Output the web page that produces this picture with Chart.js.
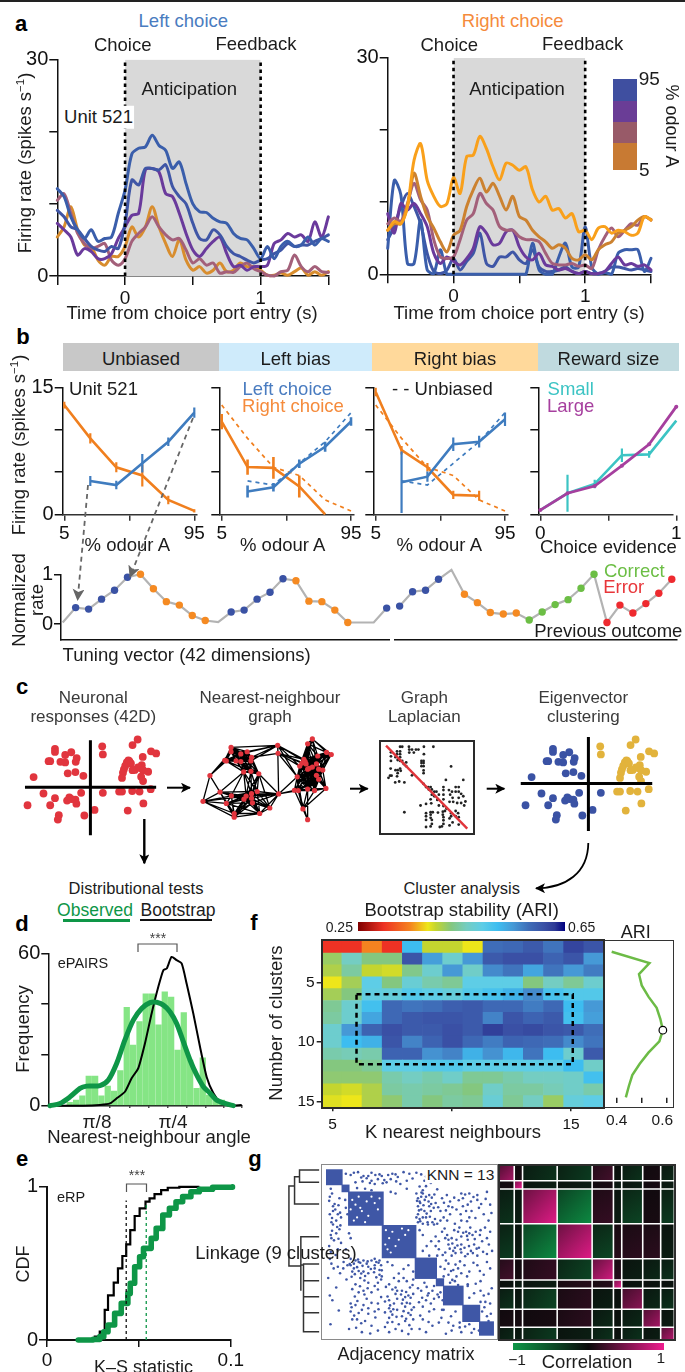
<!DOCTYPE html>
<html><head><meta charset="utf-8"><title>Neuron tuning figure</title>
<script src="https://cdn.jsdelivr.net/npm/chart.js@4/dist/chart.umd.js"></script>
<style>
html,body{margin:0;padding:0;background:#fff}
#page{position:relative;width:685px;height:1372px;overflow:hidden;background:#fff;font-family:"Liberation Sans",Arial,sans-serif}
#page canvas{position:absolute}
.t{position:absolute;white-space:nowrap;line-height:1;z-index:5}
.t sup{font-size:62%;line-height:0;vertical-align:super}
.b{position:absolute;box-sizing:border-box;z-index:4}
svg{position:absolute;left:0;top:0;z-index:6}
</style></head><body><div id="page"></div>
<script>
/* ---------- DATA ---------- */
const timeS = Array.from({length:41},(_,i)=>Math.round((i*0.05-0.5)*100)/100);
// panel a, left choice (spikes/s)
const leftOrange=[5.4,6.8,9.6,6.4,4.3,4.1,2.2,1.5,2.7,2.7,4.1,6.8,5.4,6.8,9.6,6.8,4.5,2.7,5,2.2,.8,1.3,.4,.8,1.8,.6,.8,1.8,1.3,1.3,.8,.1,.1,.4,.1,.6,1.1,.1,.6,.1,.6];
const leftMauve=[10.5,11.4,8.7,5.9,4.5,3.8,4.1,4.5,2.2,1.5,2.4,4.8,5.9,6.8,8.2,6.8,5.7,5,5.2,3.6,1.8,2.4,1.5,1.8,.4,.6,.5,1.3,1.8,1,.6,.1,0,.6,.8,2.9,1.3,.6,1.3,.6,.5];
const leftPurple=[7.3,6.4,5.4,2.9,3.8,3.4,2.4,2.4,3.1,5.2,6.8,8.4,8.7,14.7,14.9,14.4,11.4,11,8.7,5.9,3.6,2.7,3.8,4.8,5.4,3.1,1.3,1.5,.8,1.3,1.3,1.5,4.5,5,5.9,5.4,5.7,4.8,7.5,5.4,8.2];
const leftIndigo=[9.1,8.2,6.8,6.4,5.2,4.1,3.6,3.4,4.1,3.8,7.3,13.3,12.6,14.9,14.9,14.7,15.4,12.4,11,10,7.3,5.2,5,6.4,5.7,4.1,3.1,2.7,2.2,1.8,2.2,2.4,3.1,3.6,4.5,4.1,4.3,4.3,4.8,5.2,5.7];
const leftBlue=[12.1,11,8.2,6.4,5.2,6.4,4.8,5.2,5.4,8.7,11.9,16.9,17.7,17.9,19.5,18.1,17.4,14.9,15.8,12.8,10,8.9,8.8,8,7.5,7.3,5.9,5.2,5,3.8,2.4,4.1,2.4,4.1,4.8,4.1,4.3,5.4,4.3,5.2,4.8];
// panel a, right choice (spikes/s)
const rightBlueA=[3.6,13,11,1.5,1.5,7.5,.6,.1,3.4,0,0,0,0,0,0,0,0,0,0,0,0,0,4.3,.6,0,0,2.4,4.3,1,1,6.6,1,0,.2,0,2.9,3.4,3.4,3.4,.4,2.2];
const rightBlueB=[4.8,6.6,9.4,11.2,9.4,7,2.9,.4,.1,.6,2.2,.6,1.8,2.9,5.7,1.5,1.1,2.4,2.4,3.1,2,1.5,3.4,1,.4,.4,.6,1,.4,.1,.4,.1,.1,.4,1,1,.8,.6,.8,.6,.4];
const rightPurple=[8.4,5.7,9.8,8.9,9.8,8.4,6.6,2.9,1.5,2.4,1.8,1.3,2.2,3.6,6.6,5.7,4.1,4.3,5.9,6.1,3.8,2.4,2,2.9,1.3,1.1,.6,.8,.4,.1,.4,.1,.1,.4,1.5,2.4,1.3,1.5,1.1,1.3,.6];
const rightMauve=[7,7.8,7.3,9.8,12.6,10.3,8.9,4.8,2.4,2.2,2.4,4.8,7.5,8.4,11.2,9.8,8.9,6.6,6.1,6.1,5.2,4.8,4.8,4.5,2.9,1.5,1.3,1.3,1.5,1.1,1.3,.8,3.4,5.2,6.4,5.2,6.1,7,6.8,8,7.5];
const rightBrown=[6.1,7,7,9.4,14,10.8,8,6.4,4.5,3.1,5.4,6.1,9.4,11.7,13.3,11.4,12.6,10.8,8.9,10.8,8,7.5,6.1,5.2,4.5,3.6,4.1,3.6,2.2,2,2.7,2,3.4,4.1,4.5,5.7,6.1,6.6,7.5,8,7.6];
const rightOrange=[6.1,7.3,7,9.4,15.8,18.1,13,10.8,9.4,9.8,13.4,11.2,16.3,16.5,19.1,17.4,14.9,13.1,15.4,15.1,14.4,14.9,11.7,10,10.8,8.9,9.1,7.8,8.4,5.9,6.1,4.8,6.4,6.6,5.7,6.1,5.9,5.4,5.7,8,7.5];
// panel b
const odourLevels=[5,23,41,59,77,95];
const unbiasedRight=[12.95,9,5.57,4.6,1.7,.4], unbiasedRightErr=[.4,.6,.6,1.3,.5,.2];
const unbiasedLeft=[null,3.95,3.47,6.04,8.6,12.04], unbiasedLeftErr=[0,.6,.5,1.1,.5,.6];
const leftBiasRight=[10.97,5.6,5.5,3.3,0,null], leftBiasRightErr=[.9,.9,1.3,1.3,0,0];
const leftBiasLeft=[null,2.7,3.2,6,8,11], leftBiasLeftErr=[0,.7,.5,.5,.6,.5];
const rightBiasRight=[14.5,7.6,5.57,2.3,2.2,null], rightBiasRightErr=[.5,.5,.5,.5,.6,0];
const rightBiasLeft=[null,3.8,4.46,8.3,8.6,11.25], rightBiasLeftErr=[0,3.65,.6,.8,.7,.8];
const evidence=[0,.2,.4,.6,.8,1];
const rewardSmall=[.5,2.5,3.6,7,7.1,11.1], rewardSmallErr=[0,2.2,.5,.8,.4,.5];
const rewardLarge=[.5,2.5,3.35,5.76,8.3,12.75];
const tuningVector=[.03,.33,.30,.50,.68,.94,1,.71,.45,.38,.17,.07,.04,.24,.28,.5,.64,.91,.87,.46,.45,.28,.03,.03,.03,.32,.36,.65,.68,.9,1.09,.6,.43,.23,.2,.22,.08,.24,.39,.49,.72,1,.03,.38,.22,.41,.62,.9];
const tuningGroup="-BBBBBOOOOOO-BBBBBOOOOO--BBBBBOOOOOOGGGGGGRRRRRR";
// panel c
const pc1=[148,132,37,39,-111,-111,-79,-60,-43,-46,-131,-126,-94,-79,-178,-71,-47,-22,190,206,164,119,114,122,109,127,105,102,99,161,157,149,139,132,165,181,159,165,-147,-111,-126,-197,-66,-73,-59,-47,-44,-29,-99,-102,-19,13,39,90,99,131,154,189,166,117];
const pc2=[154,136,132,106,124,114,104,113,94,82,84,84,82,80,33,45,49,37,116,109,98,87,80,84,69,77,58,47,30,71,62,64,56,55,55,50,34,20,-20,-35,-58,-58,-33,-43,-38,-40,-53,-18,-90,-104,-91,-73,-18,-14,-14,-12,-14,-6,-52,-75];
const clusterOf="YYYYBBBBBBBBBBBBBBYYYYYYYYYYYYYYYYYYYYBBBBBBBBBBBBBBBYYYYYYY";
const graphNodes=[[687,224],[687,238],[718,245],[738,238],[752,256],[750,268],[667,266],[672,268],[703,268],[718,270],[620,316],[727,304],[750,302],[775,310],[945,196],[930,212],[990,240],[1005,247],[962,252],[918,263],[912,275],[922,270],[905,285],[925,278],[958,278],[930,295],[935,292],[945,288],[965,295],[978,298],[958,315],[965,328],[897,320],[835,217],[836,243],[652,370],[688,382],[672,407],[598,400],[735,383],[752,375],[770,368],[728,393],[752,390],[755,405],[697,440],[697,452],[778,440],[810,422],[838,376],[888,364],[900,365],[930,360],[952,365],[988,358],[915,425],[930,460]];
const graphBridges=[[10,38],[10,35],[10,1],[10,6],[11,35],[13,41],[13,49],[33,49],[33,4],[33,0],[33,3],[33,19],[33,22],[33,32],[34,22],[34,32],[34,23],[49,32],[49,50],[41,49],[39,49],[35,41],[49,48],[48,13],[38,45],[38,46],[35,38],[32,50],[32,51],[32,55],[51,56],[52,56],[53,55],[54,31],[54,55],[31,53],[14,18],[16,14],[17,14],[28,54],[33,2],[33,5],[38,36],[38,37],[38,39],[46,47],[45,44],[37,47],[25,51],[25,52],[22,50],[21,33]];
const lapCol=[158,165,187,236,267,188,197,210,218,188,203,236,128,148,158,128,148,158,128,143,158,150,158,165,178,170,178,228,235,228,235,228,235,127,143,150,158,160,235,235,150,125,120,130,148,197,325,155,142,172,235,243,250,258,252,262,270,277,262,270,258,285,300,300,300,300,308,365,340,350,318,328,340,350,358,322,330,350,365,320,332,345,358,372,260,280,225,243,285,300,310,368,172,243,258,265,282,298,305,325,340,348,243,258,258,298,300,325,340,243,262,300,320,350,330,320,300,295,262,258,243,350,288];
const lapRow=[219,219,219,219,219,228,228,228,228,238,238,243,237,234,234,250,243,243,265,253,253,262,265,265,270,275,282,265,265,272,272,282,282,290,295,295,290,297,296,305,305,313,320,313,315,312,283,332,335,335,340,350,350,350,358,358,365,365,375,380,390,375,350,360,375,390,327,327,350,350,360,365,365,365,372,375,385,385,380,398,398,402,402,397,403,392,410,405,410,412,420,410,432,435,432,432,433,430,428,435,428,435,445,440,450,440,448,445,445,457,457,458,452,448,465,475,470,478,470,478,480,472,480];
// panel d
const histAngle=[.141,.183,.224,.266,.308,.349,.391,.433,.474,.516,.558,.6,.641,.683,.725,.766,.808,.85,.891,.933,.975,1.016,1.058,1.1,1.141];
const histCount=[1.3,2.2,3.9,11.7,11.7,3.9,7.7,5.8,13.8,38.7,23.9,33.1,44,44,31.8,44.8,42.8,21.9,36.7,18,6.8,18.8,4.2,2.9,2.2];
const obsAngle=[.011,.077,.143,.208,.252,.34,.395,.45,.504,.559,.614,.669,.713,.757,.8,.844,.888,.932,.976,1.02,1.064,1.107,1.173,1.217];
const obsFreq=[0,.9,3.5,6.8,7.7,7.9,10.1,16.7,25.9,33.7,38.3,40.6,40.7,39.6,37,32.4,25.2,18,12.1,7.5,4.9,2.2,.7,0];
const bootAngle=[.011,.23,.34,.406,.45,.504,.548,.592,.636,.68,.724,.757,.779,.811,.844,.877,.91,.954,.998,1.042,1.086,1.129,1.195,1.272];
const bootFreq=[0,0,.3,.9,2.9,5.5,10.8,14.8,24.6,36.4,46.9,53.4,54,58.6,57.3,56,48,36.2,23.1,11.2,4.9,1.6,0,.3];
// panel e
const ksBootX=[.016,.026,.0287,.0314,.0332,.0363,.0386,.041,.0431,.0453,.0477,.0504,.0536,.0558,.0585,.0621,.0657,.072,.0829];
const ksBootY=[0,.022,.054,.196,.291,.374,.467,.548,.624,.717,.809,.859,.902,.924,.952,.978,.993,.9985,1];
const ksObsX=[.017,.0251,.0287,.0309,.0332,.0368,.0404,.044,.0453,.0477,.0504,.0525,.0567,.0594,.063,.0666,.0702,.0738,.0783,.0829,.0901,.1009];
const ksObsY=[0,.004,.022,.054,.098,.174,.239,.304,.37,.478,.543,.598,.663,.728,.815,.859,.902,.935,.967,.983,.996,1];
// panel f
const kLabels=['5','6','7','8','9','10','11','12','13','14','15','16','17','18'];
const clusterCounts=[2,3,4,5,6,7,8,9,10,11,12,13,14,15];
const stability=[
[.30,.30,.35,.30,.52,.40,.40,.385,.58,.585,.60,.575,.62,.605],
[.42,.46,.43,.43,.605,.545,.47,.55,.60,.61,.61,.59,.605,.55],
[.41,.445,.40,.395,.435,.47,.55,.465,.56,.575,.54,.575,.55,.57],
[.385,.415,.49,.43,.475,.45,.44,.49,.49,.49,.43,.46,.44,.47],
[.415,.43,.485,.48,.50,.49,.48,.50,.51,.53,.56,.51,.50,.50],
[.44,.47,.515,.585,.575,.58,.595,.60,.585,.585,.57,.585,.52,.55],
[.445,.47,.54,.585,.60,.605,.605,.60,.565,.605,.59,.60,.515,.545],
[.47,.55,.59,.61,.60,.60,.61,.60,.625,.61,.615,.605,.60,.58],
[.47,.52,.53,.605,.565,.59,.61,.585,.57,.59,.585,.58,.56,.575],
[.45,.455,.45,.59,.59,.555,.565,.53,.555,.525,.575,.52,.47,.60],
[.43,.43,.44,.49,.49,.50,.50,.49,.49,.49,.49,.49,.52,.465],
[.425,.425,.425,.45,.46,.45,.465,.44,.44,.45,.46,.46,.465,.515],
[.40,.395,.41,.445,.45,.445,.44,.43,.465,.445,.445,.455,.465,.45],
[.39,.385,.41,.425,.45,.43,.445,.44,.475,.44,.46,.42,.48,.49]];
const ariByClusters=[.379,.531,.489,.5,.527,.56,.575,.585,.571,.527,.492,.462,.448,.436];
// panel g
const adjEdges=[0,48,70,175,277,342,365,425,477,520];
const adjPairs=[[60,13],[75,17],[85,10],[115,20],[125,27],[140,10],[152,17],[160,30],[175,43],[192,17],[205,13],[217,37],[222,23],[258,13],[280,10],[295,15],[112,37],[140,35],[180,33],[200,30],[305,35],[90,40],[130,20],[165,15],[215,15],[250,35],[340,5],[395,10],[150,45],[230,45],[98,8],[108,25],[135,42],[172,20],[187,40],[240,8],[268,28],[310,22],[325,42],[370,30],[410,18],[442,38],[485,12],
[200,70],[215,75],[290,53],[300,65],[250,60],[120,60],[95,58],[140,65],[310,52],[345,62],
[280,75],[285,90],[292,105],[300,75],[310,85],[320,80],[285,115],[295,125],[285,140],[290,155],[300,150],[315,165],[325,130],[330,165],[340,105],[360,90],[375,80],[385,100],[420,75],[445,75],[470,80],[500,70],[425,115],[435,130],[445,150],[420,160],[470,95],[475,120],[510,110],[380,115],[355,130],[385,140],[320,115],[355,160],[300,170],[335,172],[400,170],[290,100],[305,130],[285,165],[310,150],[295,85],[425,90],[450,100],[490,140],[505,160],[440,110],[405,125],[365,150],[345,170],
[282,98],[288,128],[296,72],[302,112],[306,95],[312,138],[318,100],[322,148],[328,88],[334,120],[338,155],[280,150],[292,162],[316,172],[326,108],[336,78],[348,118],[372,128],[392,118],[412,96],[418,140],[432,78],[438,162],[452,130],[458,86],[464,152],[482,108],[496,92],[514,136],[398,88],[376,160],[366,104],
[300,205],[340,210],[350,225],[370,215],[380,220],[390,215],[405,220],[420,210],[435,195],[445,200],[455,205],[465,195],[480,190],[380,235],[400,245],[420,235],[440,220],[460,235],[485,225],[500,215],[340,240],[370,260],[420,260],[440,265],[470,270],[500,265],[320,270],[290,190],[430,245],[390,270],[360,195],[410,195],[450,255],[475,245],[510,195],[395,255],[300,255],[345,270],
[368,185],[376,205],[384,248],[392,232],[398,190],[402,262],[408,238],[414,182],[418,250],[426,198],[432,272],[438,208],[444,240],[448,182],[456,262],[462,218],[468,248],[478,205],[488,258],[494,182],[506,235],[516,255],[350,250],[362,268],[326,225],[312,240],
[355,305],[380,295],[395,315],[410,310],[420,325],[405,335],[500,290],[510,310],[380,330],[365,335],[430,300],[445,320],[470,300],[490,330],[372,285],[388,318],[402,298],[416,288],[438,335],[458,292],[478,318],[368,312],
[385,355],[400,350],[440,360],[480,350],[410,362],[392,346],[465,358],
[480,380],[490,395],[505,390],[495,415],[510,420],[480,415],[440,365],[445,402],[460,388],[515,372],
[485,445],[500,460],[505,475],[492,432],[512,452]];
const adjGaps=[[80,95],[90,110],[100,85],[110,130],[125,100],[95,150],[85,160],[130,145],[150,105],[160,125],[165,90],[140,85],[105,120],[75,125],[120,165],[185,190],[195,215],[205,195],[215,240],[190,250],[235,185],[245,205],[255,190],[225,220],[200,260],[183,235]];
const corrEdges=[0,47,72,176,281,345,370,433,487,528];
const corrMeans=[
[.55,.05,-.2,-.25,.2,-.05,-.2,.05,-.15],
[.05,.85,-.1,-.1,.05,-.1,-.1,.05,-.1],
[-.2,-.1,.75,-.65,.15,-.1,-.3,.05,-.25],
[-.25,-.1,-.65,.75,-.3,.1,.12,.12,-.1],
[.2,.05,.15,-.3,.7,.1,-.1,-.15,-.2],
[-.05,-.1,-.1,.1,.1,.85,-.05,-.05,-.05],
[-.2,-.1,-.3,.12,-.1,-.05,.45,-.15,-.2],
[.05,.05,.05,.12,-.15,-.05,-.15,.55,-.1],
[-.15,-.1,-.25,-.1,-.2,-.05,-.2,-.1,.6]];
// dendrogram links: distance, unit rank, distance, unit rank
const linkage=[[57,15,0,15],[57,52,0,52],[57,15,57,52],[72,35,57,35],[72,35,72,117],[72,117,0,117],[89,63,72,63],[89,63,89,303],[89,303,53,303],[53,215,53,375],[53,215,0,215],[53,300,45,300],[45,297,45,500],[45,297,0,297],[45,347,0,347],[45,395,0,395],[45,443,0,443],[45,500,0,500]];

/* ---------- HELPERS ---------- */
const page=document.getElementById('page');
const FONT='"Liberation Sans", Arial, sans-serif', INK='#111';
const BLUE='#3F7CBF', ORANGE='#F07F1E';
function T(str,x,y,o={}){const e=document.createElement('div');e.className='t';e.innerHTML=str;
  e.style.cssText+=`left:${x}px;top:${y}px;font-size:${o.s||18.5}px;color:${o.c||'#1c1c1c'};font-weight:${o.w||400};transform:translate(-50%,-50%) rotate(${o.r||0}deg);`+(o.bg?`background:${o.bg};padding:${o.pad||'2px 1px'};`:'');
  page.appendChild(e);}
function B(x,y,w,h,o={}){const e=document.createElement('div');e.className='b';
  e.style.cssText+=`left:${x}px;top:${y}px;width:${w}px;height:${h}px;`+(o.bg?`background:${o.bg};`:'')+(o.bd?`border:${o.bd};`:'')+(o.z?`z-index:${o.z};`:'');
  page.appendChild(e);}
const axis=o=>({type:'linear',axis:o.axisId,position:o.position,min:o.min,max:o.max,reverse:!!o.reverse,offset:false,display:o.show!==false,
  border:{display:o.noBorder?false:true,color:o.bc||INK,width:o.bw||1.5},
  grid:{display:true,drawOnChartArea:false,drawTicks:!!o.ticks,tickLength:o.tl||0,color:o.bc||INK,lineWidth:1.5,offset:false},
  ticks:{display:!!o.labels,autoSkip:false,maxRotation:0,minRotation:0,padding:o.pad??2,color:INK,font:{family:FONT,size:o.fs||20},
    callback:v=>(o.labels&&o.labels[v]!==undefined?o.labels[v]:'')},
  afterBuildTicks:s=>{if(o.ticks)s.ticks=o.ticks.map(value=>({value}));},
  afterFit:s=>{if(s.isHorizontal())s.height=o.size;else s.width=o.size;}});
function mk(a,m,datasets,x,y,more={}){
  const left=Math.floor(a.l-m.l),top=Math.floor(a.t-m.t);
  const W=Math.ceil(a.r+m.r-left),H=Math.ceil(a.b+m.b-top);
  const c=document.createElement('canvas');c.width=W;c.height=H;c.style.cssText=`left:${left}px;top:${top}px;width:${W}px;height:${H}px;z-index:${more.z||2}`;
  page.appendChild(c);
  const pl=a.l-left,pt=a.t-top,pr=W-(a.r-left),pb=H-(a.b-top);
  datasets.forEach((d,i)=>{d.order=-i;});
  x.size=pb;y.size=pl;
  const scales={y:axis(y)};
  const xVisible=(x.show!==false&&!x.cat)||more.scales;
  if(x.cat)scales.x={type:'category',labels:x.cat,display:false,offset:true,grid:{offset:true}};else scales.x=axis(x);
  if(more.scales)for(const k in more.scales){more.scales[k].size=pb;scales[k]=axis(more.scales[k]);}
  return new Chart(c,{type:'scatter',data:{labels:x.cat,datasets},options:{responsive:false,animation:false,devicePixelRatio:1,events:[],
    layout:{padding:{left:y.show===false?pl:0,top:pt,right:pr,bottom:xVisible?0:pb}},
    plugins:{legend:{display:false},tooltip:{enabled:false},title:{display:false}},scales}});
}
const L=(data,color,w,ex={})=>Object.assign({type:'line',data,borderColor:color,backgroundColor:color,borderWidth:w,pointRadius:0,tension:0,clip:false,fill:false,spanGaps:false,borderCapStyle:'butt'},ex);
const P=(data,color,r,ex={})=>Object.assign({type:'scatter',data,backgroundColor:color,borderColor:color,borderWidth:0,pointRadius:r,showLine:false,clip:false},ex);
const xy=(xs,ys)=>xs.map((x,i)=>({x,y:ys[i]}));
const errs=(xs,ys,es)=>xs.flatMap((x,i)=>ys[i]==null||!es[i]?[]:[{x,y:Math.max(0,ys[i]-es[i])},{x,y:ys[i]+es[i]},{x,y:null}]);
const hex=h=>[parseInt(h.slice(1,3),16),parseInt(h.slice(3,5),16),parseInt(h.slice(5,7),16)];
const mix=(a,b,t)=>{const A=hex(a),B_=hex(b);return `rgb(${A.map((v,i)=>Math.round(v+(B_[i]-v)*t)).join(',')})`;};

/* ---------- frame furniture ---------- */
B(0,0,685,1.5,{bg:'#222'});
[['a',21,24],['b',23,337],['c',22,687],['d',22,924],['e',22,1159],['f',254,923],['g',255,1159]].forEach(p=>T(p[0],p[1],p[2],{s:22,w:700,c:'#000'}));

/* ---------- panel a ---------- */
function panelA(a,curves,colors,mL){
  const shade=L([{x:0,y:30},{x:1,y:30}],'rgba(0,0,0,0)',0,{fill:'origin',backgroundColor:'#D9D9D9'});
  const ds=[shade,...curves.map((c,i)=>L(xy(timeS,c),colors[i],3,{tension:.3,borderCapStyle:'round',borderJoinStyle:'round'})),
    L([{x:0,y:0},{x:0,y:30}],'#000',2.6,{borderDash:[3.5,3.5]}),L([{x:1,y:0},{x:1,y:30}],'#000',2.6,{borderDash:[3.5,3.5]})];
  mk(a,{l:mL,t:14,r:14,b:32},ds,
    {min:-.5,max:1.5,ticks:[-.5,0,.5,1,1.5],labels:{0:'0',1:'1'},tl:9,pad:2,fs:19},
    {min:0,max:30,ticks:[0,10,20,30],labels:{0:'0',30:'30'},tl:8,pad:1,fs:20});
}
panelA({l:57.3,r:328.4,t:59.5,b:276},[leftOrange,leftMauve,leftPurple,leftIndigo,leftBlue],['#D88D2E','#A3607A','#6A3A9C','#3F56A6','#3A5EAB'],40);
panelA({l:387.7,r:651,t:57.7,b:274.3},[rightBlueB,rightBlueA,rightPurple,rightMauve,rightBrown,rightOrange],['#3F56A6','#3A5EAB','#6A3A9C','#A3607A','#CC8230','#F9A01B'],40);
T('Left choice',183.3,20.7,{c:'#4A7CC0'});T('Right choice',512.7,20.7,{c:'#F58B3C'});
T('Choice',122.7,45);T('Feedback',256,43.5);T('Anticipation',189.3,89);
T('Choice',449.3,45);T('Feedback',582.7,43.5);T('Anticipation',517,89);
T('Unit 521',98,117.3,{bg:'#fff',pad:'2px 1px 2px 2px'});
T('Firing rate (spikes s<sup>−1</sup>)',25,163,{r:-90});
T('Time from choice port entry (s)',192,312.7);T('Time from choice port entry (s)',519,312.7);
[[79,22,'#3F4FA0'],[101,21,'#6A3D96'],[122,21,'#985A68'],[143,27,'#C87A33']].forEach(s=>B(613,s[0],24,s[1],{bg:s[2]}));
T('95',649.3,77.7,{s:19});T('5',644.3,169.3,{s:19});T('% odour A',672.3,126,{r:90,s:18});

/* ---------- panel b ---------- */
[[63,156,'#C8C8C8','Unbiased'],[219,153,'#CFEBFB','Left bias'],[372,166,'#FFD99B','Right bias'],[538,141,'#C0DADF','Reward size']].forEach(h=>{B(h[0],343.3,h[1],27.7,{bg:h[2]});T(h[3],h[0]+h[1]/2,359,{});});
function tuning(axL,x0,x1,xvals,xMin,xMax,ds,xt,xl){
  const px=(x1-x0)/(xMax-xMin);
  mk({l:axL,r:axL+134,t:387.7,b:514.3},{l:36,t:14,r:16,b:32},ds,
    {min:xMin-(x0-axL)/px,max:xMin-(x0-axL)/px+134/px,ticks:xt,labels:xl,tl:6.5,pad:2,fs:19,bc:'#333'},
    {min:0,max:15,ticks:[0,5,10,15],labels:axL<100?{0:'0',15:'15'}:null,tl:8,pad:1,fs:20,bc:'#111'});
}
const odTicks=[5,50,95],odLabels={5:'5',95:'95'};
const seg=(xs,ys,c,w=2.6)=>L(xy(xs,ys),c,w);
const err=(xs,ys,es,c,w=2.2)=>L(errs(xs,ys,es),c,w);
const dash=(ys,c)=>L(xy(odourLevels,ys),c,1.7,{borderDash:[4,4]});
tuning(62.7,64.3,194.3,odourLevels,5,95,[seg(odourLevels,unbiasedRight,ORANGE),err(odourLevels,unbiasedRight,unbiasedRightErr,ORANGE),seg(odourLevels,unbiasedLeft,BLUE),err(odourLevels,unbiasedLeft,unbiasedLeftErr,BLUE)],odTicks,odLabels);
tuning(219.3,221.7,351,odourLevels,5,95,[dash(unbiasedRight,ORANGE),dash(unbiasedLeft,BLUE),seg(odourLevels,leftBiasRight,ORANGE),err(odourLevels,leftBiasRight,leftBiasRightErr,ORANGE,2.6),seg(odourLevels,leftBiasLeft,BLUE),err(odourLevels,leftBiasLeft,leftBiasLeftErr,BLUE,2.6)],odTicks,odLabels);
tuning(373.3,375.7,505,odourLevels,5,95,[dash(unbiasedRight,ORANGE),dash(unbiasedLeft,BLUE),seg(odourLevels,rightBiasRight,ORANGE),err(odourLevels,rightBiasRight,rightBiasRightErr,ORANGE),seg(odourLevels,rightBiasLeft,BLUE),err(odourLevels,rightBiasLeft,rightBiasLeftErr,BLUE)],odTicks,odLabels);
tuning(538.3,540.3,676.3,evidence,0,1,[seg(evidence,rewardSmall,'#3CC4C4'),err(evidence,rewardSmall,rewardSmallErr,'#3CC4C4'),seg(evidence,rewardLarge,'#A63F9E',2.8),P(xy(evidence,rewardLarge),'#A63F9E',2)],[0,.5,1],{0:'0',1:'1'});
T('Firing rate (spikes s<sup>−1</sup>)',19.3,445,{r:-90});
T('Unit 521',103.5,389.3);T('Left choice',287.3,389.3,{c:'#4A7CC0'});T('Right choice',293,406,{c:'#F58B3C'});
T('- - Unbiased',442.3,389.3);T('Small',570.7,389.3,{c:'#3CC4C4'});T('Large',570.7,406,{c:'#A63F9E'});
T('% odour A',127.3,545);T('% odour A',282.7,545);T('% odour A',439.3,545);T('Choice evidence',608.3,546.7);
// tuning vector
{
  const GC={B:'#3A52A4',O:'#F58A22',G:'#6CBE45',R:'#EE2A2F'};
  const lineData=tuningVector.flatMap((v,i)=>i===25?[{x:i,y:v},{x:i+.5,y:null}]:[{x:i,y:v}]);
  const marks=tuningVector.map((v,i)=>({x:i,y:v,g:tuningGroup[i]})).filter(p=>GC[p.g]);
  mk({l:61,r:676.7,t:574.3,b:640},{l:40,t:14,r:6,b:14},[L(lineData,'#B3B3B3',2.2),P(marks,marks.map(p=>GC[p.g]),3.7)],
    {min:-.13,max:47.38,fs:10},{min:-.322,max:1,ticks:[0,1],labels:{0:'0',1:'1'},tl:7,pad:1,fs:20});
  B(390,637,4,6,{bg:'#fff',z:3});
}
T('Normalized',19,600,{r:-90});T('rate',36.7,600,{r:-90});
T('Tuning vector (42 dimensions)',186.7,655);
T('Correct',634.3,570.7,{c:'#6CBE45'});T('Error',623.7,587.3,{c:'#E8363A'});T('Previous outcome',608.3,631);

/* ---------- panel c ---------- */
const neuronPts=xy(pc1,pc2);
function scatterC(l,ds){mk({l,r:l+156.67,t:729,b:844},{l:0,t:0,r:0,b:0},ds,{min:-230,max:240,show:false},{min:-170,max:175,show:false});}
scatterC(13.67,[P(neuronPts,'#E1353E',3.9),L([{x:-205,y:0},{x:206,y:0}],'#000',3),L([{x:0,y:152},{x:0,y:-155}],'#000',3)]);
scatterC(511.67,[P(neuronPts,pc1.map((_,i)=>clusterOf[i]==='B'?'#3A52A4':'#E2B33C'),3.9),L([{x:-212,y:12},{x:200,y:12}],'#000',3),L([{x:0,y:162},{x:0,y:-141}],'#000',3)]);
{
  const edges=[];
  graphNodes.forEach((a,i)=>graphNodes.forEach((b,j)=>{if(j>i&&Math.hypot(a[0]-b[0],a[1]-b[1])<88)edges.push([i,j]);}));
  const all=edges.concat(graphBridges).flatMap(([i,j])=>[{x:graphNodes[i][0],y:graphNodes[i][1]},{x:graphNodes[j][0],y:graphNodes[j][1]},{x:graphNodes[j][0],y:null}]);
  mk({l:193,r:340,t:730,b:827},{l:0,t:0,r:0,b:0},[L(all,'#000',1.3),P(graphNodes.map(n=>({x:n[0],y:n[1]})),'#E1353E',2.6)],
    {min:579,max:1020,show:false},{min:180,max:471,reverse:true,show:false});
  mk({l:379,r:474,t:740,b:834.3},{l:0,t:0,r:0,b:0},[P(xy(lapCol,lapRow),'#222',1.4),L([{x:112,y:215},{x:378,y:485}],'#E0353B',2.4)],
    {min:102,max:387,show:false},{min:210,max:493,reverse:true,show:false});
  B(379,740,95.5,94.5,{bd:'2px solid #2a2a2a'});
}
[['Neuronal',93.3,697.3],['responses (42D)',93.3,715.7],['Nearest-neighbour',270,697.3],['graph',270,715.7],['Graph',424.3,697.3],['Laplacian',424.3,715.7],['Eigenvector',583.3,697.3],['clustering',583.3,715.7]].forEach(p=>T(p[0],p[1],p[2],{s:17,c:'#3a3a3a'}));
T('Distributional tests',136,888.3,{s:16.5});T('Cluster analysis',461.7,888.3,{s:16.5});

/* ---------- panel d ---------- */
mk({l:48.3,r:241.7,t:953.3,b:1105.7},{l:42,t:14,r:8,b:14},
  [Object.assign({type:'bar',data:xy(histAngle,histCount),backgroundColor:'#85E585',barThickness:5.6,grouped:false,borderWidth:0}),
   L(xy(bootAngle,bootFreq),'#000',2,{tension:.2}),L(xy(obsAngle,obsFreq),'#0E9647',5,{tension:.3,borderCapStyle:'round'})],
  {min:0,max:1.272,ticks:[.406,.533,.658,.785,.91,1.035,1.156,1.272],tl:2,fs:10},
  {min:0,max:60,ticks:[0,20,40,60],labels:{0:'0',60:'60'},tl:7,pad:1,fs:20});
T('Observed',95,911,{c:'#0E9647',s:17.5});T('Bootstrap',178,911,{s:17.5});
B(63,918.5,67,3,{bg:'#0E9647'});B(140,918.5,72,2.6,{bg:'#111'});
T('ePAIRS',83,963,{s:14.5});T('***',158,938,{s:14,c:'#444'});
T('π/8',97,1121,{s:19});T('π/4',173,1121,{s:19});T('Frequency',23,1029,{s:18.5,r:-90});T('Nearest-neighbour angle',149,1137);

/* ---------- panel e ---------- */
mk({l:47,r:231.7,t:1186.7,b:1340},{l:36,t:14,r:14,b:32},
  [L(xy(ksBootX,ksBootY),'#000',2.2,{stepped:true}),L(xy(ksObsX,ksObsY),'#0E9647',5.6,{stepped:true,borderCapStyle:'round',borderJoinStyle:'round'}),
   L([{x:.0431,y:0},{x:.0431,y:.91}],'#111',1.3,{borderDash:[3,3]}),L([{x:.054,y:0},{x:.054,y:.9}],'#0E9647',1.3,{borderDash:[3,3]})],
  {min:0,max:.1,ticks:[0,.05,.1],labels:{0:'0',0.1:'0.1'},tl:7,pad:2,fs:19,bw:2},
  {min:0,max:1,ticks:[0,1],labels:{0:'0',1:'1'},tl:8,pad:1,fs:20,bw:2});
T('eRP',71,1197,{s:14.5});T('***',137,1175,{s:14,c:'#444'});T('CDF',23,1264,{s:18,r:-90});T('K–S statistic',143.6,1366.7,{s:18});

/* ---------- panel f ---------- */
const HEAT=[[.25,'#7F0000'],[.30,'#EE3224'],[.35,'#F58220'],[.385,'#EDE61A'],[.40,'#C4D52F'],[.43,'#84C77F'],[.46,'#74CDC2'],[.49,'#5ECDE6'],[.52,'#3DBDF0'],[.55,'#4699D6'],[.58,'#3F6DB8'],[.61,'#3A50A5'],[.63,'#2E3A96'],[.65,'#000080']];
function heat(v){for(let i=1;i<HEAT.length;i++){if(v<=HEAT[i][0]){const t=(v-HEAT[i-1][0])/(HEAT[i][0]-HEAT[i-1][0]);return mix(HEAT[i-1][1],HEAT[i][1],Math.max(0,t));}}return HEAT[HEAT.length-1][1];}
{
  const rows=clusterCounts.map((n,r)=>({type:'bar',data:kLabels.map(()=>[n-.5,n+.5]),backgroundColor:stability[r].map(heat),grouped:false,barPercentage:1,categoryPercentage:1,borderWidth:0,xAxisID:'x'}));
  rows[0].data=kLabels.map(()=>[1.41,2.5]);
  const rect=L([{x:6,y:5.98},{x:15.07,y:5.98},{x:15.07,y:11.86},{x:6,y:11.86},{x:6,y:5.98}],'#000',2.5,{borderDash:[5,4],xAxisID:'xK'});
  mk({l:321.7,r:604,t:940,b:1107.3},{l:34,t:14,r:10,b:28},rows.concat([rect]),
    {cat:kLabels},
    {min:1.41,max:15.48,reverse:true,ticks:[5,10,15],labels:{5:'5',10:'10',15:'15'},tl:5,pad:2,fs:15.5,bc:'#222'},
    {scales:{xK:{axisId:'x',position:'bottom',min:4.54,max:16.38,ticks:[5,10,15],labels:{5:'5',15:'15'},tl:4,pad:4,fs:15.5,bc:'#222'}}});
  B(320.7,939,284.5,169.5,{bd:'2px solid #2b2b2b'});
  mk({l:604,r:673.3,t:940,b:1107.3},{l:0,t:0,r:2,b:0},
    [L(xy(ariByClusters,clusterCounts),'#6CBB46',2.5),P([{x:.585,y:9}],'#fff',3.8,{borderColor:'#000',borderWidth:1.2})],
    {min:.369,max:.617,ticks:[.4,.5,.6],tl:-5,fs:10,bc:'#222',noBorder:true},
    {min:1.41,max:15.48,reverse:true,show:false});
  B(604,939.5,70,168.5,{bd:'1.3px solid #333',z:1});
  B(358,922,207,9,{bg:'linear-gradient(to right,'+HEAT.map(h=>h[1]+' '+((h[0]-.25)/.4*100)+'%').join(',')+')'});
  T('Bootstrap stability (ARI)',461.7,910);T('0.25',339.3,927.3,{s:14});T('0.65',581.7,927.3,{s:14});
  T('ARI',635.7,932,{s:18});T('0.4',616.7,1120,{s:15.5});T('0.6',662.3,1120,{s:15.5});
  T('Number of clusters',276,1023,{r:-90});T('K nearest neighbours',453,1132);
}

/* ---------- panel g ---------- */
{
  const dendro=linkage.flatMap(s=>[{x:s[0],y:s[1]},{x:s[2],y:s[3]},{x:s[2],y:null}]);
  mk({l:288.3,r:321.7,t:1165,b:1340},{l:0,t:0,r:0,b:0},[L(dendro,'#333',1.5,{borderCapStyle:'square'})],{min:-10,max:90,reverse:true,show:false},{min:0,max:525,reverse:true,show:false});
  const S=175.6/527, blocks=[];
  for(let k=0;k<9;k++){const a=adjEdges[k],b=adjEdges[k+1];
    blocks.push({type:'bar',data:[{x:(a+b)/2,y:[a,b]}],backgroundColor:'#3F57A6',barThickness:(b-a)*S,grouped:false,borderWidth:0});}
  const dots=adjPairs.flatMap(([i,j])=>[{x:i,y:j},{x:j,y:i}]);
  mk({l:321.7,r:497.3,t:1164,b:1339.3},{l:0,t:0,r:0,b:0},[P(dots,'#3F57A6',1.3),...blocks,P(adjGaps.map(p=>({x:p[0],y:p[1]})),'#fff',1.1)],
    {min:-5,max:522,show:false},{min:-5,max:522,reverse:true,show:false});
  B(321,1163.5,177,176.5,{bd:'1.5px solid #8a8a8a',z:3});
  T('KNN = 13',460.5,1174.5,{s:15.5,bg:'#fff',pad:'1px 2px'});
  const SC=176.7/530, cols=[];
  const cc=v=>{v=Math.max(-1,Math.min(1,v));return v<0?mix('#0A0A0A','#0EA84F',-v):mix('#0A0A0A','#EE1C8E',v);};
  const CX=(176.7/530), CY=(175/525), CL=.3, CT=0;
  for(let c=0;c<9;c++){const a=corrEdges[c],b=corrEdges[c+1];
    cols.push({type:'bar',grouped:false,borderWidth:0,inflateAmount:0,barThickness:(b-a)*SC-1.6,
      data:corrMeans.map((_,r)=>({x:(a+b)/2,y:[corrEdges[r]+2.2,corrEdges[r+1]-2.2]})),
      backgroundColor(ctx){ if(ctx.type!=='data')return '#000';const r=ctx.dataIndex,v=corrMeans[r][c];
        const g=ctx.chart.ctx.createLinearGradient(CL+a*CX,CT+corrEdges[r]*CY,CL+b*CX,CT+corrEdges[r+1]*CY);
        g.addColorStop(0,cc(v*.55));g.addColorStop(1,cc(v*1.25));return g;}});}
  mk({l:498.3,r:675,t:1165,b:1340},{l:0,t:0,r:0,b:0},cols,{min:0,max:530,show:false},{min:0,max:525,reverse:true,show:false});
  B(497.5,1164,178.5,177,{bd:'2.5px solid #2e2e2e',z:3});
  B(513,1342.7,151,7.3,{bg:'linear-gradient(to right,#0E9647,#0A0A0A 50%,#EE1C8E)'});
  T('Linkage (9 clusters)',276,1253);T('Adjacency matrix',406,1354,{s:18});
  T('−1',517,1360,{s:15.5});T('Correlation',587,1362,{s:18.5});T('1',660.7,1358,{s:15.5});
}

/* ---------- annotations (arrows, brackets) ---------- */
page.insertAdjacentHTML('beforeend',`<svg width="685" height="1372" viewBox="0 0 685 1372" fill="none">
<defs>
<marker id="ah" markerUnits="userSpaceOnUse" markerWidth="12" markerHeight="12" refX="9" refY="5" orient="auto"><path d="M0 0L10 5L0 10L2.5 5Z" fill="#000"/></marker>
<marker id="ag" markerUnits="userSpaceOnUse" markerWidth="14" markerHeight="14" refX="11" refY="6" orient="auto"><path d="M0 0L12 6L0 12L3 6Z" fill="#666"/></marker>
</defs>
<path d="M88 485L77.6 600" stroke="#666" stroke-width="1.8" stroke-dasharray="5 4" marker-end="url(#ag)"/>
<path d="M193 418L130 577" stroke="#666" stroke-width="1.8" stroke-dasharray="5 4" marker-end="url(#ag)"/>
<path d="M167 787.7H190" stroke="#000" stroke-width="2" marker-end="url(#ah)"/>
<path d="M350 788.7H367.7" stroke="#000" stroke-width="2" marker-end="url(#ah)"/>
<path d="M486.7 788.7H504.3" stroke="#000" stroke-width="2" marker-end="url(#ah)"/>
<path d="M144.3 819V863.3" stroke="#000" stroke-width="2.4" marker-end="url(#ah)"/>
<path d="M588.3 843C588 873 566 888 536 888.3" stroke="#000" stroke-width="1.8" marker-end="url(#ah)"/>
<path d="M138 952V944H177V952" stroke="#555" stroke-width="1.2"/>
<path d="M126.5 1192V1184H146.5V1192" stroke="#555" stroke-width="1.2"/>
</svg>`);
</script></body></html>
